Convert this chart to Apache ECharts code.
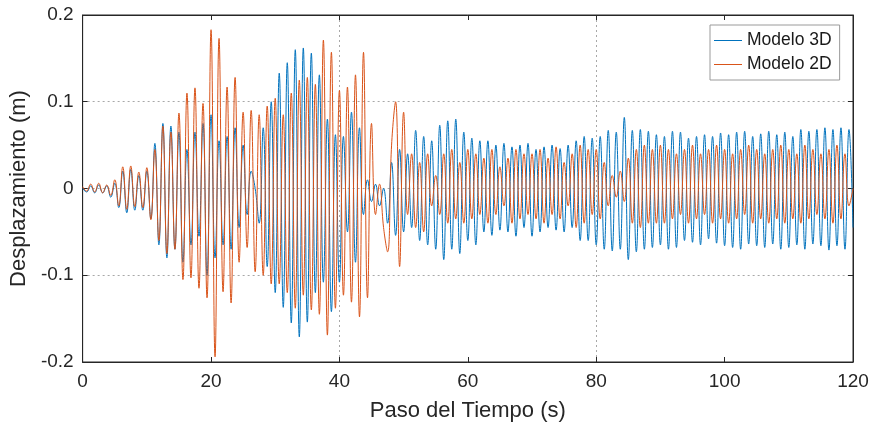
<!DOCTYPE html>
<html>
<head>
<meta charset="utf-8">
<script src="https://cdn.jsdelivr.net/npm/echarts@6/dist/echarts.min.js"></script>
<style>
  html, body { margin: 0; padding: 0; background: #fff; }
  #chart { width: 873px; height: 428px; }
</style>
</head>
<body>
<div id="chart"></div>
<script>
// Displacement response, one value every sampleStep seconds (successive peaks and troughs)
const sampleStep = 0.625;

const modelo3D = [
  0.000, -0.004, 0.003, -0.005, 0.004, -0.005, 0.003, -0.010, 0.006, -0.022, 0.020, -0.028, 0.022, -0.025, 0.015, -0.025,
  0.020, -0.035, 0.052, -0.065, 0.075, -0.080, 0.072, -0.070, 0.065, -0.085, 0.045, -0.065, 0.065, -0.055, 0.075, -0.100,
  0.085, -0.080, 0.055, -0.065, 0.060, -0.070, 0.070, -0.045, 0.050, -0.030, 0.020, 0.000, -0.040, 0.070, -0.090, 0.100,
  -0.120, 0.133, -0.137, 0.145, -0.155, 0.160, -0.171, 0.162, -0.154, 0.156, -0.120, 0.131, -0.108, 0.080, -0.142, 0.062,
  -0.108, 0.060, -0.050, 0.088, -0.085, 0.070, -0.030, 0.010, -0.015, 0.005, -0.020, 0.000, -0.040, 0.030, -0.054, 0.045,
  -0.050, 0.040, -0.045, 0.067, -0.060, 0.060, -0.065, 0.055, -0.070, 0.073, -0.082, 0.078, -0.070, 0.080, -0.075, 0.065,
  -0.060, 0.058, -0.065, 0.055, -0.050, 0.055, -0.054, 0.050, -0.048, 0.052, -0.050, 0.048, -0.055, 0.050, -0.045, 0.052,
  -0.055, 0.045, -0.050, 0.048, -0.045, 0.050, -0.048, 0.046, -0.050, 0.050, -0.045, 0.055, -0.060, 0.060, -0.060, 0.058,
  -0.065, 0.060, -0.070, 0.067, -0.072, 0.065, -0.070, 0.082, -0.082, 0.067, -0.073, 0.068, -0.070, 0.066, -0.068, 0.062,
  -0.065, 0.060, -0.070, 0.066, -0.068, 0.065, -0.060, 0.058, -0.062, 0.060, -0.065, 0.062, -0.058, 0.060, -0.063, 0.064,
  -0.066, 0.062, -0.068, 0.065, -0.070, 0.066, -0.064, 0.060, -0.066, 0.063, -0.068, 0.066, -0.064, 0.062, -0.070, 0.065,
  -0.068, 0.060, -0.065, 0.068, -0.070, 0.066, -0.064, 0.068, -0.066, 0.070, -0.071, 0.068, -0.066, 0.070, -0.070, 0.068,
  -0.045
];

const modelo2D = [
  0.002, -0.003, 0.005, -0.004, 0.006, -0.005, 0.004, -0.008, 0.010, -0.020, 0.025, -0.024, 0.026, -0.021, 0.019, -0.022,
  0.024, -0.036, 0.045, -0.060, 0.072, -0.075, 0.065, -0.070, 0.087, -0.105, 0.110, -0.103, 0.116, -0.115, 0.098, -0.126,
  0.183, -0.194, 0.173, -0.119, 0.117, -0.132, 0.128, -0.085, 0.088, -0.068, 0.090, -0.096, 0.085, -0.100, 0.095, -0.110,
  0.104, -0.110, 0.085, -0.120, 0.110, -0.138, 0.125, -0.123, 0.128, -0.140, 0.120, -0.145, 0.171, -0.169, 0.157, -0.138,
  0.113, -0.123, 0.117, -0.131, 0.131, -0.148, 0.157, -0.126, 0.075, -0.030, 0.005, -0.045, -0.073, 0.050, 0.100, -0.090,
  0.088, -0.030, 0.040, -0.045, 0.030, -0.050, 0.040, -0.020, 0.015, -0.030, 0.040, -0.040, 0.045, -0.035, 0.030, -0.040,
  0.045, -0.035, 0.040, -0.030, 0.035, -0.040, 0.045, -0.030, 0.025, -0.020, 0.035, -0.040, 0.045, -0.035, 0.040, -0.030,
  0.040, -0.035, 0.045, -0.040, 0.035, -0.030, 0.048, -0.035, 0.030, -0.020, 0.040, -0.045, 0.050, -0.040, 0.045, -0.030,
  0.045, -0.035, 0.030, -0.020, 0.015, -0.010, 0.020, -0.015, 0.035, -0.040, 0.045, -0.045, 0.050, -0.040, 0.045, -0.040,
  0.050, -0.040, 0.045, -0.035, 0.040, -0.030, 0.045, -0.040, 0.050, -0.035, 0.040, -0.030, 0.045, -0.040, 0.050, -0.035,
  0.045, -0.040, 0.040, -0.035, 0.045, -0.030, 0.050, -0.040, 0.045, -0.035, 0.040, -0.040, 0.045, -0.035, 0.050, -0.040,
  0.045, -0.035, 0.040, -0.040, 0.050, -0.035, 0.045, -0.030, 0.040, -0.035, 0.045, -0.040, 0.050, -0.035, 0.040, -0.020,
  0.000
];

const seriesNames = ['Modelo 3D', 'Modelo 2D'];
const xTicks = { min: 0, max: 120, step: 20 };
const yTicks = { min: -0.2, max: 0.2, step: 0.1 };

const FONT = '"Liberation Sans", Arial, Helvetica, sans-serif';
const INK = '#262626';
const GRID = '#a8a8a8';
const NONE = 'rgba(0,0,0,0)';
const BLUE = '#0072BD';
const ORANGE = '#D95319';

const toPairs = values => values.map((v, i) => [i * sampleStep, v]);

const chart = echarts.init(document.getElementById('chart'));

const baseX = {
  type: 'value', min: xTicks.min, max: xTicks.max, interval: xTicks.step,
  axisLine: { show: true, onZero: false, lineStyle: { color: INK, width: 1 } },
  axisTick: { show: true, inside: true, length: 5, lineStyle: { color: INK } },
  splitLine: { show: false }
};
const baseY = {
  type: 'value', min: yTicks.min, max: yTicks.max, interval: yTicks.step,
  axisLine: { show: true, onZero: false, lineStyle: { color: INK, width: 1 } },
  axisTick: { show: true, inside: true, length: 5, lineStyle: { color: INK } },
  splitLine: { show: false }
};

chart.setOption({
  animation: false,
  backgroundColor: '#fff',
  textStyle: { fontFamily: FONT },
  grid: {
    left: 82, right: 20, top: 15, bottom: 66,
    show: true, borderColor: INK, borderWidth: 1, backgroundColor: '#fff'
  },
  legend: {
    data: [
      { name: seriesNames[0], icon: 'rect', itemStyle: { color: BLUE } },
      { name: seriesNames[1], icon: 'rect', itemStyle: { color: ORANGE } }
    ],
    orient: 'vertical',
    left: 710, top: 25,
    padding: [5, 8, 5, 4],
    itemGap: 3,
    itemWidth: 28, itemHeight: 1,
    backgroundColor: '#fff',
    borderColor: '#9a9a9a', borderWidth: 1,
    textStyle: { fontFamily: FONT, fontSize: 17.5, color: '#1a1a1a', lineHeight: 21 }
  },
  xAxis: [
    Object.assign({}, baseX, {
      position: 'bottom',
      name: 'Paso del Tiempo (s)', nameLocation: 'middle', nameGap: 38,
      nameTextStyle: { fontFamily: FONT, fontSize: 22, color: INK },
      axisLabel: { show: true, margin: 10, fontFamily: FONT, fontSize: 19, color: INK },
      splitLine: {
        show: true,
        lineStyle: { color: [NONE, NONE, GRID, NONE, GRID, NONE, NONE], type: [2, 3], width: 1 }
      }
    }),
    Object.assign({}, baseX, { position: 'top', axisLabel: { show: false } })
  ],
  yAxis: [
    Object.assign({}, baseY, {
      position: 'left',
      name: 'Desplazamiento (m)', nameLocation: 'middle', nameGap: 49,
      nameTextStyle: { fontFamily: FONT, fontSize: 22, color: INK },
      axisLabel: { show: true, margin: 9, fontFamily: FONT, fontSize: 19, color: INK },
      splitLine: { show: true, lineStyle: { color: GRID, type: [2, 3], width: 1 } }
    }),
    Object.assign({}, baseY, { position: 'right', axisLabel: { show: false } })
  ],
  series: [
    {
      name: seriesNames[0], type: 'line', xAxisIndex: 0, yAxisIndex: 0,
      data: toPairs(modelo3D),
      smooth: 0.45, symbol: 'none',
      lineStyle: { color: BLUE, width: 1 },
      itemStyle: { color: BLUE }
    },
    {
      name: seriesNames[1], type: 'line', xAxisIndex: 0, yAxisIndex: 0,
      data: toPairs(modelo2D),
      smooth: 0.45, symbol: 'none',
      lineStyle: { color: ORANGE, width: 1 },
      itemStyle: { color: ORANGE }
    }
  ]
});
</script>
</body>
</html>
